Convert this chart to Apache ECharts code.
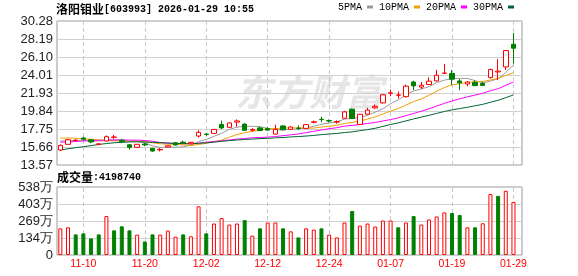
<!DOCTYPE html>
<html><head><meta charset="utf-8">
<script src="https://cdn.jsdelivr.net/npm/echarts@6.0.0/dist/echarts.min.js"></script>
<style>html,body{margin:0;padding:0;background:#fff}#c{width:578px;height:276px}</style>
</head><body><div id="c"></div>
<script>
const stockName = '洛阳钼业';
const stockInfo = '[603993] 2026-01-29 10:55';
const dates = ['11-05','11-06','11-07','11-10','11-11','11-12','11-13','11-14','11-17','11-18',
 '11-19','11-20','11-21','11-24','11-25','11-26','11-27','11-28','12-01','12-02',
 '12-03','12-04','12-05','12-08','12-09','12-10','12-11','12-12','12-15','12-16',
 '12-17','12-18','12-19','12-22','12-23','12-24','12-25','12-26','12-29','12-30',
 '12-31','01-05','01-06','01-07','01-08','01-09','01-12','01-13','01-14','01-15',
 '01-16','01-19','01-20','01-21','01-22','01-23','01-26','01-27','01-28','01-29'];
const dateLabels = ['11-10','11-20','12-02','12-12','12-24','01-07','01-19','01-29'];
const open = [15.31,15.97,16.40,16.70,16.50,15.98,16.35,16.78,16.45,15.92,
 15.62,16.00,15.50,15.33,15.65,16.15,16.22,16.03,16.93,17.16,
 17.24,18.28,17.94,18.55,18.32,17.60,17.87,17.80,17.16,18.10,
 17.72,17.85,17.82,18.52,18.88,18.72,18.55,19.00,20.05,18.28,
 19.47,20.20,20.78,21.90,21.66,21.50,23.20,22.62,22.91,23.33,
 24.20,24.19,23.32,22.97,23.15,23.03,23.73,24.37,24.95,27.58];
const close = [15.85,16.50,16.45,16.55,16.25,16.02,16.85,16.82,16.30,15.62,
 15.97,15.90,15.19,15.38,15.80,15.89,16.15,16.20,17.36,17.10,
 17.70,17.87,18.45,18.68,17.60,17.68,17.58,17.62,17.70,17.66,
 17.98,17.82,18.26,18.58,18.84,18.68,18.60,19.74,18.98,19.46,
 19.94,20.38,21.72,21.95,21.70,22.72,22.75,22.82,23.30,23.99,
 24.24,23.53,23.10,23.20,22.78,22.80,24.65,24.47,26.85,27.12];
const low = [15.20,15.90,16.30,16.40,16.10,15.85,16.30,16.60,16.10,15.35,
 15.55,15.75,15.10,15.15,15.60,15.85,16.00,16.00,16.75,16.95,
 17.20,17.74,17.90,18.00,17.55,17.45,17.50,17.55,17.10,17.60,
 17.65,17.62,17.75,18.40,18.55,18.50,18.35,18.95,18.95,18.20,
 19.40,20.10,20.70,21.56,21.30,21.40,22.26,22.40,22.85,23.25,
 24.15,22.85,22.26,22.70,22.70,22.72,23.60,23.42,24.60,25.36];
const high = [15.95,16.60,16.60,16.85,16.55,16.10,17.00,17.05,16.55,15.95,
 16.00,16.15,15.55,15.55,15.85,16.20,16.40,16.25,17.60,17.30,
 17.75,18.72,18.50,18.86,18.40,17.85,18.05,17.95,18.25,18.20,
 18.05,18.15,18.30,18.72,19.18,18.85,18.75,19.85,20.10,19.50,
 20.20,20.60,21.82,22.33,22.10,22.90,23.35,23.20,23.75,24.60,
 25.30,24.60,23.55,23.32,23.40,23.20,24.75,25.85,26.90,28.88];
const ma5 = [16.35,16.40,16.42,16.45,16.32,16.35,16.42,16.50,16.45,16.32,
 16.31,16.12,15.80,15.61,15.65,15.63,15.68,15.88,16.28,16.54,
 16.90,17.25,17.70,17.96,18.06,18.06,18.00,17.83,17.64,17.65,
 17.71,17.76,17.88,18.06,18.30,18.44,18.59,18.89,18.97,19.09,
 19.34,19.70,20.10,20.69,21.14,21.69,22.17,22.39,22.66,23.12,
 23.42,23.58,23.63,23.61,23.37,23.08,23.31,23.58,24.31,25.18];
const ma10 = [16.70,16.70,16.68,16.62,16.55,16.48,16.42,16.38,16.35,16.32,
 16.33,16.27,16.15,16.03,15.98,15.97,15.90,15.84,15.95,16.09,
 16.27,16.46,16.79,17.12,17.30,17.48,17.62,17.76,17.80,17.85,
 17.88,17.88,17.86,17.85,17.97,18.07,18.17,18.39,18.51,18.69,
 18.89,19.15,19.49,19.83,20.12,20.52,20.93,21.24,21.67,22.13,
 22.56,22.87,23.01,23.14,23.24,23.25,23.44,23.61,23.96,24.27];
const ma20 = [16.22,16.25,16.30,16.35,16.40,16.44,16.46,16.47,16.47,16.46,
 16.45,16.42,16.32,16.18,16.10,16.06,16.05,16.05,16.10,16.21,
 16.30,16.37,16.47,16.58,16.64,16.73,16.76,16.80,16.87,16.97,
 17.07,17.17,17.32,17.48,17.64,17.78,17.90,18.08,18.16,18.27,
 18.39,18.51,18.68,18.84,19.04,19.30,19.55,19.81,20.09,20.41,
 20.72,21.01,21.25,21.48,21.68,21.89,22.19,22.42,22.82,23.20];
const ma30 = [15.31,15.45,15.58,15.69,15.82,15.95,16.06,16.15,16.20,16.24,
 16.26,16.24,16.20,16.16,16.12,16.08,16.05,16.04,16.08,16.14,
 16.22,16.32,16.40,16.47,16.53,16.58,16.63,16.67,16.72,16.76,
 16.83,16.87,16.93,17.00,17.09,17.17,17.23,17.33,17.42,17.55,
 17.68,17.83,18.05,18.27,18.46,18.69,18.91,19.13,19.33,19.56,
 19.78,19.97,20.12,20.27,20.44,20.61,20.85,21.08,21.38,21.70];
const volume = [2110000,2190000,1630000,1710000,1310000,1630000,3080000,1950000,2270000,1950000,
 1610000,1070000,1630000,1610000,1930000,1450000,1630000,1480000,3850000,1710000,
 2490000,2920000,2410000,2490000,2760000,1530000,2110000,2570000,2570000,2110000,
 1870000,1390000,2110000,2010000,2110000,1610000,1390000,2570000,3480000,2330000,
 2490000,2250000,2730000,2730000,2190000,2570000,3080000,2410000,2810000,3050000,
 3370000,3320000,3160000,2190000,2190000,2510000,4820000,4680000,5080000,4198740];
const volumeDir = [1,1,-1,-1,-1,-1,1,-1,-1,-1, 1,-1,-1,1,1,1,-1,1,1,-1,
 1,1,1,1,-1,1,-1,1,1,-1, 1,-1,1,1,-1,1,1,1,-1,1,
 1,1,1,1,-1,1,-1,1,1,1, 1,-1,-1,1,-1,1,1,-1,1,1];
const priceTicks = ['13.57','15.66','17.75','19.84','21.93','24.01','26.10','28.19','30.28'];
const volumeTicks = ['0','134万','269万','403万','538万'];
const volumeMax = 5380000;
const maNames = ['5PMA','10PMA','20PMA','30PMA'];
const maColors = ['#9a9a9a','#f0a000','#ff00ff','#006633'];

const pMin = parseFloat(priceTicks[0]);
const pMax = parseFloat(priceTicks[priceTicks.length - 1]);
const pInt = (pMax - pMin) / (priceTicks.length - 1);
const vInt = volumeMax / (volumeTicks.length - 1);
const RED = '#ff0000', GREEN = '#008000';
const axisFont = {fontFamily: 'Liberation Sans', fontSize: 13, color: '#222'};
const vline = {
  silent: true, symbol: ['none', 'none'], label: {show: false}, z: 1,
  lineStyle: {color: '#c8c8c8', type: [4, 3], width: 1},
  emphasis: {disabled: true},
  data: dateLabels.map(d => ({xAxis: d}))
};

const chart = echarts.init(document.getElementById('c'), null, {renderer: 'canvas'});
const maSeries = [ma5, ma10, ma20, ma30].map((arr, k) => ({
  name: maNames[k], type: 'line', xAxisIndex: 1, yAxisIndex: 1, data: arr,
  showSymbol: false, symbol: 'none', silent: true, z: 2,
  lineStyle: {width: 1, color: maColors[k]}, itemStyle: {color: maColors[k]}
}));
chart.setOption({
  animation: false,
  title: [
    {left: 56, top: 3, padding: 0, text: '{a|' + stockName + '}{b|' + stockInfo + '}',
     textStyle: {rich: {a: {fontFamily: 'Noto Sans CJK SC', fontSize: 12, color: '#000'},
                        b: {fontFamily: 'Liberation Mono', fontSize: 10, color: '#000'}}}},
    {left: 57, top: 171, padding: 0, text: '{a|成交量}{b|:' + volume[volume.length - 1] + '}',
     textStyle: {rich: {a: {fontFamily: 'Noto Sans CJK SC', fontSize: 12, color: '#000'},
                        b: {fontFamily: 'Liberation Mono', fontSize: 10, color: '#000'}}}}
  ],
  legend: {
    left: 338, top: 2, padding: 0, itemWidth: 6, itemHeight: 3, itemGap: 6, icon: 'rect',
    align: 'right', selectedMode: false, data: maNames,
    textStyle: {fontFamily: 'Liberation Mono', fontSize: 10, color: '#000'}
  },
  graphic: [
    {type: 'text', x: 309, y: 92, z: -10, silent: true,
     style: {text: '东方财富', fill: '#e6e6e6', font: 'italic bold 37px "Noto Sans CJK SC"',
             align: 'center', verticalAlign: 'middle'}}
  ],
  grid: [
    {left: 57, top: 21, width: 465, height: 144, show: true, borderColor: '#999', borderWidth: 1, backgroundColor: 'transparent'},
    {left: 56.5, top: 21, width: 460.8, height: 144},
    {left: 57, top: 187, width: 465, height: 68, show: true, borderColor: '#999', borderWidth: 1, backgroundColor: 'transparent'},
    {left: 56.5, top: 187, width: 460.8, height: 68}
  ],
  xAxis: [
    {gridIndex: 0, type: 'value', show: false, min: 0, max: 1},
    {gridIndex: 1, type: 'category', data: dates, boundaryGap: true, show: false},
    {gridIndex: 2, type: 'value', show: false, min: 0, max: 1},
    {gridIndex: 3, type: 'category', data: dates, boundaryGap: true,
     axisLine: {show: false}, axisTick: {show: false}, splitLine: {show: false},
     axisLabel: {interval: (i, v) => dateLabels.indexOf(v) >= 0, color: RED,
                 fontFamily: 'Liberation Sans', fontSize: 10.5, margin: 4}}
  ],
  yAxis: [
    {gridIndex: 0, type: 'value', min: pMin, max: pMax, interval: pInt,
     axisLine: {show: false}, axisTick: {show: false},
     axisLabel: Object.assign({margin: 4, formatter: v => priceTicks[Math.round((v - pMin) / pInt)]}, axisFont),
     splitLine: {lineStyle: {color: '#d0d0d0', width: 1}}},
    {gridIndex: 1, type: 'value', min: pMin, max: pMax, show: false},
    {gridIndex: 2, type: 'value', min: 0, max: volumeMax, interval: vInt,
     axisLine: {show: false}, axisTick: {show: false},
     axisLabel: Object.assign({margin: 4, formatter: v => volumeTicks[Math.round(v / vInt)]}, axisFont),
     splitLine: {lineStyle: {color: '#d0d0d0', width: 1}}},
    {gridIndex: 3, type: 'value', min: 0, max: volumeMax, show: false}
  ],
  series: [
    {name: 'K', type: 'candlestick', xAxisIndex: 1, yAxisIndex: 1, barWidth: 5, z: 3, silent: true,
     data: dates.map((d, i) => [open[i], close[i], low[i], high[i]]),
     itemStyle: {color: '#fff', color0: GREEN, borderColor: RED, borderColor0: GREEN, borderWidth: 1},
     markLine: vline},
    ...maSeries,
    {name: 'VOL', type: 'bar', xAxisIndex: 3, yAxisIndex: 3, barWidth: 4, z: 3, silent: true,
     data: volume.map((v, i) => ({value: v, itemStyle: volumeDir[i] > 0
        ? {color: '#fff', borderColor: RED, borderWidth: 1}
        : {color: GREEN, borderColor: GREEN, borderWidth: 1}})),
     markLine: vline}
  ]
});
</script>
</body></html>
